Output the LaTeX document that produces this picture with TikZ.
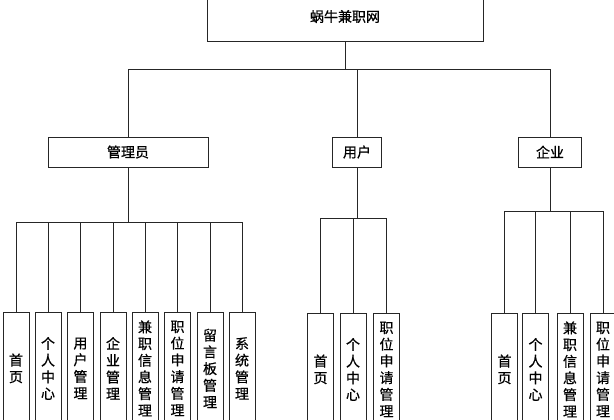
\documentclass[tikz,border=0pt]{standalone}
\usepackage{fontspec}
\newfontfamily\cjk[FakeBold=0.6]{Noto Sans CJK SC}
\usetikzlibrary{positioning}

\begin{document}
\begin{tikzpicture}[
  x=1pt, y=-1pt,
  line width=0.8pt, draw=black!85,
  every node/.style={draw=black!85, font=\cjk\fontsize{14}{16.7}\selectfont, inner sep=0pt},
  role/.style={minimum height=30pt},
  leaf/.style={anchor=north, minimum width=26pt, minimum height=112pt, align=center}
]
\useasboundingbox (0,0) rectangle (614,420);

% top level
\node[minimum width=276pt, minimum height=49pt] (root) at (345,16.5) {蜗牛兼职网};
\node[role, minimum width=160pt] (admin) at (128,152) {管理员};
\node[role, minimum width=49pt] (user) at (357,152) {用户};
\node[role, minimum width=63pt] (ent) at (550,152) {企业};

\coordinate (bar0) at (0,69);
\coordinate (abar) at (0,222);
\coordinate (ubar) at (0,218);
\coordinate (ebar) at (0,211);

\draw (root.south) -- (root.south |- bar0);
\draw (admin.north) |- (ent.north |- bar0) -- (ent.north);
\draw (user.north) -- (user.north |- bar0);

% admin leaves
\foreach \i/\x/\t in {1/16/{首\\页}, 2/48/{个\\人\\中\\心}, 3/80.5/{用\\户\\管\\理},
    4/113/{企\\业\\管\\理}, 5/145/{兼\\职\\信\\息\\管\\理}, 6/177.5/{职\\位\\申\\请\\管\\理},
    7/210/{留\\言\\板\\管\\理}, 8/242/{系\\统\\管\\理}} {
  \node[leaf] (a\i) at (\x,312) {\t};
  \draw (a\i.north) |- (admin.south |- abar);
}
\draw (admin.south) -- (admin.south |- abar);

% user leaves
\foreach \i/\x/\t in {1/320.5/{首\\页}, 2/353/{个\\人\\中\\心}, 3/386.5/{职\\位\\申\\请\\管\\理}} {
  \node[leaf] (u\i) at (\x,313) {\t};
  \draw (u\i.north) |- (user.south |- ubar);
}
\draw (user.south) -- (user.south |- ubar);

% enterprise leaves
\foreach \i/\x/\t in {1/504.5/{首\\页}, 2/535.5/{个\\人\\中\\心}, 3/570/{兼\\职\\信\\息\\管\\理},
    4/603/{职\\位\\申\\请\\管\\理}} {
  \node[leaf] (e\i) at (\x,313) {\t};
  \draw (e\i.north) |- (ent.south |- ebar);
}
\draw (ent.south) -- (ent.south |- ebar);
\end{tikzpicture}
\end{document}
